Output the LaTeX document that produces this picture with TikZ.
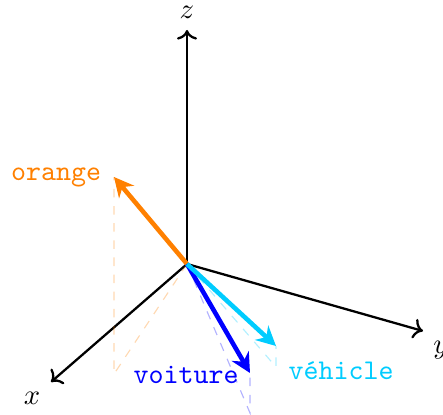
\documentclass[tikz,border=0pt]{standalone}
\usepackage{fontspec}
\usetikzlibrary{arrows.meta}
\definecolor{carrot}{RGB}{255,128,0}
\definecolor{royal}{RGB}{0,0,255}
\definecolor{sky}{RGB}{0,204,255}
\tikzset{
  axis/.style={->,thick},
  vec/.style={-{Stealth[length=2.4mm,width=2.4mm]},line width=1.6pt,draw=#1},
  trace/.style={thin,dashed,draw=#1,opacity=0.3},
  tag/.style={font=\ttfamily,text=#1},
  axislabel/.style={font=\normalsize},
}

\begin{document}
\begin{tikzpicture}[x=0.35pt,y=-0.35pt]
        \useasboundingbox (0,0) rectangle (443,414);
        \coordinate (o) at (187,264);
        % axes
        \foreach \a/\tx/\ty/\lx/\ly in {x/51/382/32/398,y/423/331/441/350,z/187/30/187/12}{
          \coordinate (\a tip) at (\tx,\ty);
          \node[axislabel,inner sep=1pt] (\a lab) at (\lx,\ly) {$\a$};
          \draw[axis] (o) -- (\a tip);
        }
        % vectors and their shadows
        \foreach \n/\c/\t/\tx/\ty/\fx/\fy/\lx/\ly in {orange/carrot/orange/114/177/114/374/56/177,voiture/royal/voiture/250/373/250/413/186/375,vehicle/sky/véhicle/276/346/276/367/341/371}{
          \coordinate (\n tip) at (\tx,\ty);
          \coordinate (\n foot) at (\fx,\fy);
          \draw[trace=\c] (o) -- (\n foot) -- (\n tip);
          \draw[vec=\c] (o) -- (\n tip);
          \node[tag=\c] (\n lab) at (\lx,\ly) {\t};
        }
      \end{tikzpicture}
\end{document}
